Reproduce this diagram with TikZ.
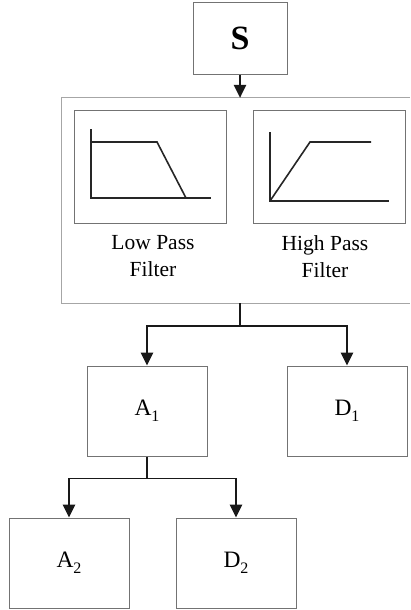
\documentclass[tikz,border=0pt]{standalone}
\usepackage{fontspec}
\setmainfont{Liberation Serif}
\usetikzlibrary{arrows.meta}
\newcommand{\subidx}[1]{\raisebox{-6pt}{\fontsize{16}{16}\selectfont #1}}
\begin{document}
\begin{tikzpicture}[x=1pt,y=-1pt,
  box/.style={draw=black!55,line width=1pt,minimum width=120pt,minimum height=90pt,inner sep=0pt,
    font=\fontsize{23.5}{23.5}\selectfont},
  fbox/.style={draw=black!55,line width=1pt,minimum width=152pt,minimum height=113pt,inner sep=0pt},
  lbl/.style={align=center,inner sep=0pt,font=\fontsize{21.5}{27}\selectfont},
  arr/.style={draw=black!90,line width=1.5pt,-{Triangle[width=12.5pt,length=13pt]}},
  conn/.style={draw=black!90,line width=1.5pt},
  curve/.style={draw=black!85,line width=1.6pt}]
\useasboundingbox (0,0) rectangle (410,610);
% source
\node[box,minimum width=94pt,minimum height=71pt,font=\fontsize{34}{34}\selectfont\bfseries] (S) at (240,38.5) {S};
% filter bank (open on the right)
\node[minimum width=348pt,minimum height=205pt,inner sep=0pt] (bank) at (236,200.5) {};
\draw[black!35,line width=1pt] (bank.north east) -- (bank.north west) -- (bank.south west) -- (bank.south east);
\node[fbox] (lpf) at (150,166.5) {};
\node[fbox] (hpf) at (329,166.5) {};
\node[lbl] (lpft) at (153,256.5) {Low Pass\\Filter};
\node[lbl] (hpft) at (325,256.5) {High Pass\\Filter};
% filter curves
\draw[curve] (91,129) -- (91,198) -- (211,198);
\draw[curve] (91,142) -- (157,142) -- (186,198);
\draw[curve] (270,132) -- (270,201) -- (389,201);
\draw[curve] (270,201) -- (310,142) -- (371,142);
% outputs
\node[box] (A1) at (147,411) {A\subidx{1}};
\node[box] (D1) at (347,411) {D\subidx{1}};
\node[box] (A2) at (69,563) {A\subidx{2}};
\node[box] (D2) at (236,563) {D\subidx{2}};
% connectors
\draw[arr] (S.south) -- (S.south |- bank.north);
\draw[conn] (S.south |- bank.south) -- ++(0,23) coordinate (j1);
\draw[arr] (j1) -| (A1.north);
\draw[arr] (j1) -| (D1.north);
\draw[conn] (A1.south) -- ++(0,22) coordinate (j2);
\draw[arr] (j2) -| (A2.north);
\draw[arr] (j2) -| (D2.north);
\end{tikzpicture}
\end{document}
